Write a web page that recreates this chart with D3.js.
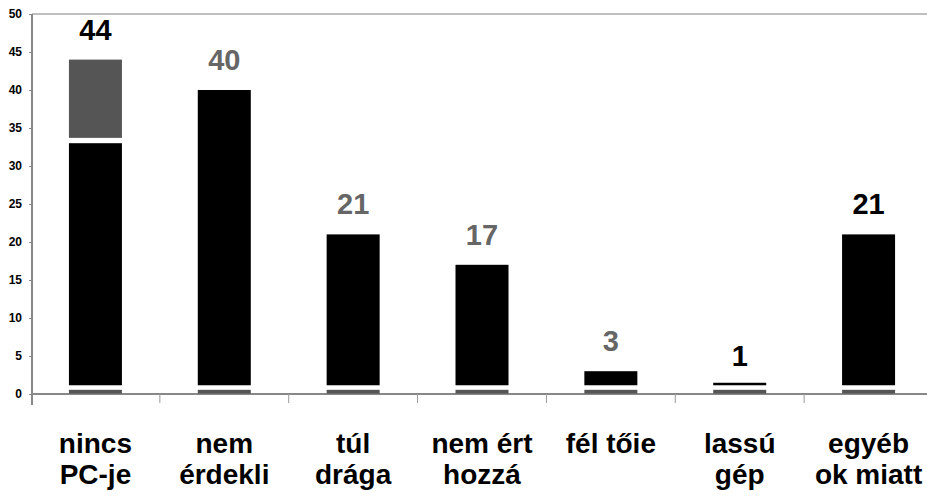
<!DOCTYPE html>
<html>
<head>
<meta charset="utf-8">
<script src="https://cdn.jsdelivr.net/npm/d3@7"></script>
<style>
  body { margin: 0; background: #fff; }
  svg { display: block; font-family: "Liberation Sans", Arial, sans-serif; }
</style>
</head>
<body>
<figure id="bar" style="margin:0"></figure>
<script>
// categories, two lines each
const categories = ["nincs|PC-je", "nem|érdekli", "túl|drága", "nem ért|hozzá", "fél tőie|", "lassú|gép", "egyéb|ok miatt"];
// black part and grey stacked part
const mainValues = [33, 40, 21, 17, 3, 1, 21];
const extraValues = [11, 0, 0, 0, 0, 0, 0];
const totalLabels = [44, 40, 21, 17, 3, 1, 21];
const yTicks = [0, 5, 10, 15, 20, 25, 30, 35, 40, 45, 50];

const width = 927, height = 496;

const svg = d3.select("figure#bar")
  .append("svg")
  .attr("width", width)
  .attr("height", height);

const x = d3.scaleBand()
  .domain(categories)
  .range([31, 933])
  .padding(0);

const y = d3.scaleLinear()
  .domain([0, 50])
  .range([394, 14]);

const barW = 53;
const cx = d => x(d) + x.bandwidth() / 2;

// top border of plot area
svg.append("line")
  .attr("x1", 32).attr("x2", width)
  .attr("y1", y(50)).attr("y2", y(50))
  .attr("stroke", "#aaa")
  .attr("stroke-width", 1.5);

// Y axis
const yAxis = svg.append("g")
  .attr("transform", "translate(32,0)")
  .call(d3.axisLeft(y).tickValues(yTicks).tickSize(3).tickPadding(7));
yAxis.select(".domain").remove();
yAxis.selectAll(".tick line").attr("stroke", "#888");
yAxis.selectAll("text")
  .attr("font-size", 12)
  .attr("font-weight", "bold")
  .attr("font-family", "Liberation Sans, Arial, sans-serif")
  .attr("fill", "#000");
svg.append("line")
  .attr("x1", 32).attr("x2", 32)
  .attr("y1", y(50)).attr("y2", 405)
  .attr("stroke", "#888")
  .attr("stroke-width", 2);

// X axis line and ticks between categories
svg.append("line")
  .attr("x1", 32).attr("x2", width)
  .attr("y1", y(0)).attr("y2", y(0))
  .attr("stroke", "#888")
  .attr("stroke-width", 2);
svg.selectAll(".xtick")
  .data(categories.slice(1))
  .enter()
  .append("line")
  .attr("x1", d => x(d)).attr("x2", d => x(d))
  .attr("y1", y(0)).attr("y2", 403)
  .attr("stroke", "#999")
  .attr("stroke-width", 1);

// grey strip at the foot of every bar
svg.selectAll(".base")
  .data(categories)
  .enter()
  .append("rect")
  .attr("x", d => cx(d) - barW / 2)
  .attr("y", y(0.55))
  .attr("width", barW)
  .attr("height", y(0.05) - y(0.55))
  .attr("fill", "#555");

// black bars
svg.selectAll(".bar")
  .data(categories)
  .enter()
  .append("rect")
  .attr("x", d => cx(d) - barW / 2)
  .attr("y", (d, i) => Math.min(y(mainValues[i]), y(1.15) - 2.5))
  .attr("width", barW)
  .attr("height", (d, i) => y(1.15) - Math.min(y(mainValues[i]), y(1.15) - 2.5))
  .attr("fill", "#000");

// grey stacked part
svg.selectAll(".extra")
  .data(categories.filter((d, i) => extraValues[i] > 0))
  .enter()
  .append("rect")
  .attr("x", d => cx(d) - barW / 2)
  .attr("y", d => { const i = categories.indexOf(d); return y(mainValues[i] + extraValues[i]); })
  .attr("width", barW)
  .attr("height", d => { const i = categories.indexOf(d); return y(mainValues[i] + 0.7) - y(mainValues[i] + extraValues[i]); })
  .attr("fill", "#555");

// value labels
const darkLabels = [0, 5, 6];
svg.selectAll(".val")
  .data(categories)
  .enter()
  .append("text")
  .attr("x", d => cx(d))
  .attr("y", (d, i) => y(totalLabels[i]) - 20)
  .attr("text-anchor", "middle")
  .attr("font-size", 29)
  .attr("font-weight", "bold")
  .attr("fill", (d, i) => darkLabels.includes(i) ? "#000" : "#666")
  .text((d, i) => totalLabels[i]);

// category labels
const cat = svg.selectAll(".cat")
  .data(categories)
  .enter()
  .append("text")
  .attr("text-anchor", "middle")
  .attr("font-size", 28)
  .attr("font-weight", "bold")
  .attr("fill", "#000");
cat.append("tspan")
  .attr("x", d => cx(d))
  .attr("y", 453)
  .text(d => d.split("|")[0]);
cat.append("tspan")
  .attr("x", d => cx(d))
  .attr("y", 484)
  .text(d => d.split("|")[1]);
</script>
</body>
</html>
